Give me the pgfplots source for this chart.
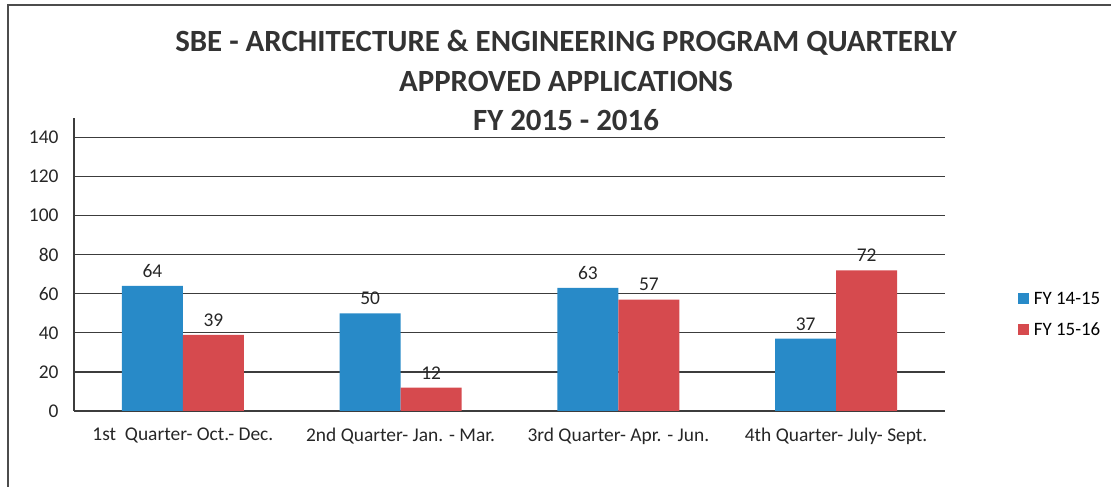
\documentclass[border=0pt]{standalone}
\usepackage{pgfplots}
\pgfplotsset{compat=1.18}
\usepackage{fontspec}
\setmainfont{Carlito}
\definecolor{barblue}{RGB}{40,138,200}
\definecolor{barred}{RGB}{214,74,78}
\definecolor{gridc}{RGB}{60,60,60}
\begin{document}
\begin{tikzpicture}[x=1bp,y=1bp]
\useasboundingbox (0,0) rectangle (1111,487);
\draw[line width=1.2bp, black!70] (8,0) -- (8,482) -- (1115,482);
\node[font=\bfseries\fontsize{31}{36}\selectfont, text=black!80] at (566,444) {SBE - ARCHITECTURE \& ENGINEERING PROGRAM QUARTERLY};
\node[font=\bfseries\fontsize{31}{36}\selectfont, text=black!80] at (566,406) {APPROVED APPLICATIONS};
\node[font=\bfseries\fontsize{31}{36}\selectfont, text=black!80] at (566,367) {FY 2015 - 2016};
\begin{axis}[
  at={(74bp,76bp)}, anchor=south west,
  scale only axis, width=871bp, height=293bp,
  xmin=-0.5, xmax=3.5, ymin=0, ymax=150,
  ybar=0pt, bar width=0.28,
  ytick={0,20,...,140},
  xtick=data,
  xticklabels={1st\ \ Quarter- Oct.- Dec., 2nd Quarter- Jan. - Mar., 3rd Quarter- Apr. - Jun., 4th Quarter- July- Sept.},
  axis x line*=bottom, axis y line*=left,
  axis line style={line width=1.2bp, gridc, -},
  ymajorgrids, grid style={line width=1.2bp, gridc},
  major tick length=0pt,
  tick label style={font=\fontsize{19.5}{23}\selectfont, text=black!85},
  /pgf/number format/assume math mode=true,
  yticklabel style={xshift=-12bp},
  xticklabel style={yshift=-13bp},
  nodes near coords,
  nodes near coords style={font=\fontsize{19.5}{23}\selectfont, text=black!85, yshift=5bp},
  legend style={at={(1.08,0.33)}, anchor=west, draw=none, fill=none,
    font=\fontsize{19}{22}\selectfont, row sep=13bp,
    /tikz/every odd column/.style={column sep=3bp}},
  legend image code/.code={\fill[#1] (0bp,-5.5bp) rectangle (11bp,5.5bp);},
  clip=false,
]
\addplot[fill=barblue, draw=none] coordinates {(0,64) (1,50) (2,63) (3,37)};
\addplot[fill=barred, draw=none] coordinates {(0,39) (1,12) (2,57) (3,72)};
\legend{FY 14-15, FY 15-16}
\end{axis}
\end{tikzpicture}
\end{document}
